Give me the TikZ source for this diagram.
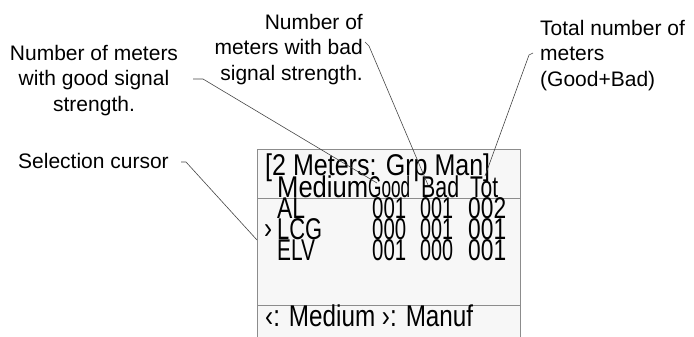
\documentclass[tikz,border=0pt]{standalone}
\usepackage{fontspec}
\setmainfont{Liberation Sans}
\usepackage{graphicx}
\newcommand{\lcd}[2]{\resizebox{#1bp}{\height}{\fontsize{30bp}{30bp}\selectfont #2}}
\begin{document}
\begin{tikzpicture}[x=1bp,y=-1bp,
  callout/.style={font=\fontsize{21bp}{25.5bp}\selectfont, inner sep=0pt},
  lcdtxt/.style={inner sep=0pt, anchor=base west},
  leader/.style={draw=gray!55!black, line width=0.6bp},
  frame/.style={draw=gray!90, line width=0.8bp}]
\useasboundingbox (0,0) rectangle (694,336);
\begin{scope}
\clip (0,0) rectangle (694,336);
\node[frame, fill=gray!6, anchor=north west, minimum width=263bp, minimum height=200bp, inner sep=0pt] (screen) at (257,149) {};
\end{scope}
\coordinate (s1l) at (257,198); \coordinate (s1r) at (520,198);
\coordinate (s2l) at (257,305); \coordinate (s2r) at (520,305);
\draw[frame] (s1l) -- (s1r);
\draw[frame] (s2l) -- (s2r);
% LCD text
\node[lcdtxt] (title) at (265,175) {\lcd{225}{[2 Meters: Grp Man]}};
\node[lcdtxt] (hmed) at (277,197) {\lcd{91}{Medium}};
\node[lcdtxt] (hgood) at (368,197) {\lcd{42}{Good}};
\node[lcdtxt] (hbad) at (421,197) {\lcd{38}{Bad}};
\node[lcdtxt] (htot) at (470,197) {\lcd{28}{Tot}};
\node[lcdtxt] (ral) at (277,218) {\lcd{28}{AL}};
\node[lcdtxt] (rlcg) at (277,239) {\lcd{45}{LCG}};
\node[lcdtxt] (relv) at (277,260) {\lcd{38}{ELV}};
\node[lcdtxt] (a1) at (372,218) {\lcd{34}{001}};
\node[lcdtxt] (a2) at (420,218) {\lcd{33}{001}};
\node[lcdtxt] (a3) at (468,218) {\lcd{38}{002}};
\node[lcdtxt] (b1) at (372,239) {\lcd{34}{000}};
\node[lcdtxt] (b2) at (420,239) {\lcd{33}{001}};
\node[lcdtxt] (b3) at (468,239) {\lcd{38}{001}};
\node[lcdtxt] (c1) at (372,260) {\lcd{34}{001}};
\node[lcdtxt] (c2) at (420,260) {\lcd{33}{000}};
\node[lcdtxt] (c3) at (468,260) {\lcd{38}{001}};
\node[lcdtxt] (cursor) at (264,238) {\lcd{8}{›}};
\node[lcdtxt] (foot) at (265,326) {\lcd{208}{‹: Medium ›: Manuf}};
% callouts (base anchor = last line's baseline)
\node[callout, align=center, anchor=base] (lgood) at (94,111) {Number of meters\\with good signal\\strength.};
\node[callout, align=right, anchor=base east] (lbad) at (363,80) {Number of\\meters with bad\\signal strength.};
\node[callout, align=left, anchor=base west] (ltot) at (540,86) {Total number of\\meters\\(Good+Bad)};
\node[callout, anchor=base west] (lsel) at (18,168) {Selection cursor};
% leader coordinates
\coordinate (g0) at (193,79); \coordinate (g1) at (203,79); \coordinate (g2) at (377,183);
\coordinate (b0) at (365,42); \coordinate (b1) at (369,46); \coordinate (b2) at (428,185);
\coordinate (t0) at (533,53); \coordinate (t1) at (529,55); \coordinate (t2) at (485,176);
\coordinate (c0) at (181,162); \coordinate (c1) at (186,162); \coordinate (c2) at (257,240);
\draw[leader] (g0) -- (g1) -- (g2);
\draw[leader] (b0) -- (b1) -- (b2);
\draw[leader] (t0) -- (t1) -- (t2);
\draw[leader] (c0) -- (c1) -- (c2);
\end{tikzpicture}
\end{document}
